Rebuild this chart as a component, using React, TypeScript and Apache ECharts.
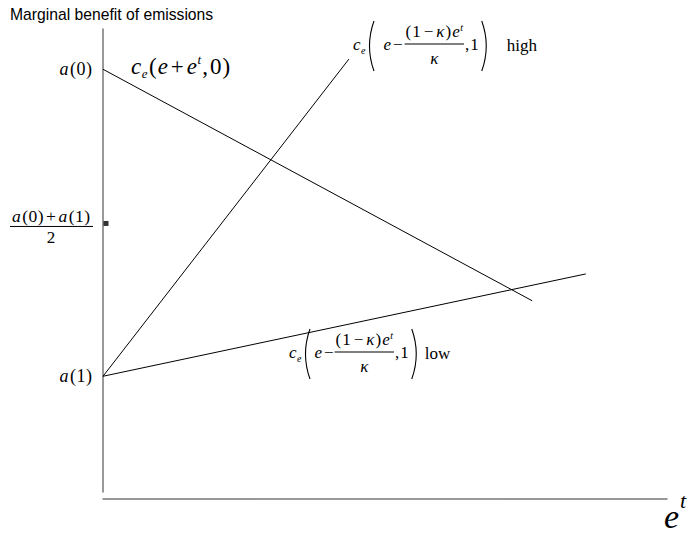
import React, { useEffect, useRef } from "react";
import * as echarts from "echarts";

const TITLE = "Marginal benefit of emissions";
const X_RANGE = [0, 100];
const Y_RANGE = [0, 100];
// c_e(e+e^t,0): marginal benefit line
const benefitX = [0, 76.1];
const benefitY = [91.3, 41.3];
// c_e(e-(1-κ)e^t/κ,1) high
const highX = [0, 43.6];
const highY = [25.0, 93.5];
// c_e(e-(1-κ)e^t/κ,1) low
const lowX = [0, 85.6];
const lowY = [25.0, 47.1];
// y-axis marks: a(0), (a(0)+a(1))/2, a(1)
const A0 = 91.3;
const AMID = 58.0;
const A1 = 25.0;

const SERIF = '"Liberation Serif", "Times New Roman", serif';
type Tok = { t: string; s: number; i?: boolean; dy?: number; g?: number };
let mctx: CanvasRenderingContext2D | null = null;
const fontOf = (s: number, i?: boolean) => `${i ? "italic " : ""}${s}px ${SERIF}`;
function measure(t: string, s: number, i?: boolean) {
  if (!mctx) mctx = document.createElement("canvas").getContext("2d");
  mctx!.font = fontOf(s, i);
  return mctx!.measureText(t).width;
}
function txt(x: number, yBase: number, t: string, s: number, i?: boolean) {
  return {
    type: "text",
    x,
    y: yBase - 0.3 * s,
    silent: true,
    style: {
      text: t,
      font: fontOf(s, i),
      fill: "#000",
      textAlign: "left",
      textVerticalAlign: "middle",
    },
  };
}
function rowWidth(toks: Tok[]) {
  return toks.reduce((w, k) => w + (k.g || 0) + measure(k.t, k.s, k.i), 0);
}
function row(els: any[], x0: number, base: number, toks: Tok[]) {
  let x = x0;
  for (const k of toks) {
    x += k.g || 0;
    els.push(txt(x, base + (k.dy || 0), k.t, k.s, k.i));
    x += measure(k.t, k.s, k.i);
  }
  return x;
}
function hline(els: any[], x1: number, x2: number, y: number) {
  els.push({
    type: "line",
    silent: true,
    shape: { x1, y1: y, x2, y2: y },
    style: { stroke: "#000", lineWidth: 1 },
  });
}
function paren(els: any[], x: number, top: number, bot: number, left: boolean) {
  const w = 4.5;
  const mid = (top + bot) / 2;
  const xe = left ? x + w : x;
  const xc = left ? x - w : x + 2 * w;
  els.push({
    type: "bezierCurve",
    silent: true,
    shape: { x1: xe, y1: top, x2: xe, y2: bot, cpx1: xc, cpy1: mid },
    style: { stroke: "#000", lineWidth: 1.1, fill: null },
  });
}
function paramLabel(
  els: any[],
  x0: number,
  B: number,
  word: string,
  parenGap: number,
  innerGap: number,
  fracGap: number,
  wordGap: number
) {
  const S = 17;
  const s = 10;
  let x = row(els, x0, B, [
    { t: "c", s: S, i: true },
    { t: "e", s, i: true, dy: 3, g: 0.5 },
  ]);
  x += parenGap;
  paren(els, x, B - 29, B + 21, true);
  x += 5;
  x = row(els, x + innerGap, B, [
    { t: "e", s: S, i: true },
    { t: "\u2212", s: S, g: 2 },
  ]);
  const num: Tok[] = [
    { t: "(", s: S },
    { t: "1", s: S, g: 1 },
    { t: "\u2212", s: S, g: 3 },
    { t: "\u03ba", s: S, i: true, g: 3 },
    { t: ")", s: S, g: 1 },
    { t: "e", s: S, i: true, g: 1 },
    { t: "t", s, i: true, dy: -7, g: 0.5 },
  ];
  const nx = x + fracGap;
  const nw = rowWidth(num);
  row(els, nx, B - 13, num);
  hline(els, nx - 1, nx + nw + 1, B - 6);
  const kw = measure("\u03ba", S, true);
  row(els, nx + nw / 2 - kw / 2, B + 14, [{ t: "\u03ba", s: S, i: true }]);
  x = nx + nw + 2;
  x = row(els, x, B, [
    { t: ",", s: S },
    { t: "1", s: S, g: 1 },
  ]);
  x += 3;
  paren(els, x, B - 29, B + 21, false);
  x += 5;
  row(els, x + wordGap, B + 1, [{ t: word, s: 17 }]);
}

export default function App() {
  const ref = useRef<HTMLDivElement>(null);
  useEffect(() => {
    const chart = echarts.init(ref.current!, null, { renderer: "svg" });
    const axisStyle = { color: "#777", width: 1.5 };
    chart.setOption({
      animation: false,
      title: {
        text: TITLE,
        left: 10,
        top: 6,
        padding: 0,
        textStyle: {
          fontFamily: '"Liberation Sans", Arial, sans-serif',
          fontSize: 15.7,
          fontWeight: "normal",
          color: "#000",
        },
      },
      grid: { left: 103, right: 25, top: 29, bottom: 46, containLabel: false },
      xAxis: {
        type: "value",
        min: X_RANGE[0],
        max: X_RANGE[1],
        offset: 7,
        axisLine: { show: true, onZero: false, lineStyle: axisStyle },
        axisTick: { show: false },
        axisLabel: { show: false },
        splitLine: { show: false },
      },
      yAxis: {
        type: "value",
        min: Y_RANGE[0],
        max: Y_RANGE[1],
        axisLine: { show: true, onZero: false, lineStyle: axisStyle },
        axisTick: { show: false },
        axisLabel: { show: false },
        splitLine: { show: false },
      },
      series: [
        {
          type: "line",
          name: "benefit",
          data: benefitX.map((x, i) => [x, benefitY[i]]),
          showSymbol: false,
          silent: true,
          lineStyle: { color: "#000", width: 1 },
        },
        {
          type: "line",
          name: "high",
          data: highX.map((x, i) => [x, highY[i]]),
          showSymbol: false,
          silent: true,
          lineStyle: { color: "#000", width: 1 },
        },
        {
          type: "line",
          name: "low",
          data: lowX.map((x, i) => [x, lowY[i]]),
          showSymbol: false,
          silent: true,
          lineStyle: { color: "#000", width: 1 },
        },
        {
          type: "scatter",
          name: "mid",
          data: [[0, AMID]],
          symbol: "rect",
          symbolSize: 5,
          symbolOffset: [3, 0],
          clip: false,
          silent: true,
          itemStyle: { color: "#000" },
        },
      ],
    });

    const py = (v: number) => (chart.convertToPixel({ gridIndex: 0 } as any, [0, v]) as number[])[1];
    const els: any[] = [];

    // y-axis labels
    const aTok = (d: string, S: number): Tok[] => [
      { t: "a", s: S, i: true },
      { t: "(", s: S, g: 1.5 },
      { t: d, s: S, g: 0.5 },
      { t: ")", s: S, g: 0.5 },
    ];
    const t0 = aTok("0", 18);
    row(els, 92 - rowWidth(t0), py(A0) + 5.5, t0);
    const t1 = aTok("1", 18);
    row(els, 92 - rowWidth(t1), py(A1) + 5.5, t1);
    const ym = py(AMID);
    const numTok: Tok[] = [
      ...aTok("0", 17.5),
      { t: "+", s: 17.5, g: 2.5 },
      ...aTok("1", 17.5).map((k, i) => (i === 0 ? { ...k, g: 2.5 } : k)),
    ];
    const nw = rowWidth(numTok);
    row(els, 51 - nw / 2, ym - 2, numTok);
    hline(els, 10, 93, ym + 3);
    const w2 = measure("2", 17);
    row(els, 51 - w2 / 2, ym + 19, [{ t: "2", s: 17 }]);

    // c_e(e+e^t,0)
    const S = 23;
    const s = 13;
    row(els, 131, 73, [
      { t: "c", s: S, i: true },
      { t: "e", s, i: true, dy: 4, g: 0.5 },
      { t: "(", s: S, g: 1.5 },
      { t: "e", s: S, i: true, g: 1 },
      { t: "+", s: S, g: 3 },
      { t: "e", s: S, i: true, g: 3 },
      { t: "t", s, i: true, dy: -10, g: 0.5 },
      { t: ",", s: S, g: 1 },
      { t: "0", s: S, g: 2 },
      { t: ")", s: S, g: 1 },
    ]);

    paramLabel(els, 353, 50, "high", 4, 9, 3, 20);
    paramLabel(els, 289, 358, "low", 4, 4, 2, 8);

    // x-axis label e^t
    row(els, 664, 527, [
      { t: "e", s: 34, i: true },
      { t: "t", s: 22, i: true, dy: -20, g: 1 },
    ]);

    chart.setOption({ graphic: { elements: els } });
    return () => chart.dispose();
  }, []);
  return <div ref={ref} style={{ position: "absolute", left: 0, top: 0, width: 692, height: 538 }} />;
}
